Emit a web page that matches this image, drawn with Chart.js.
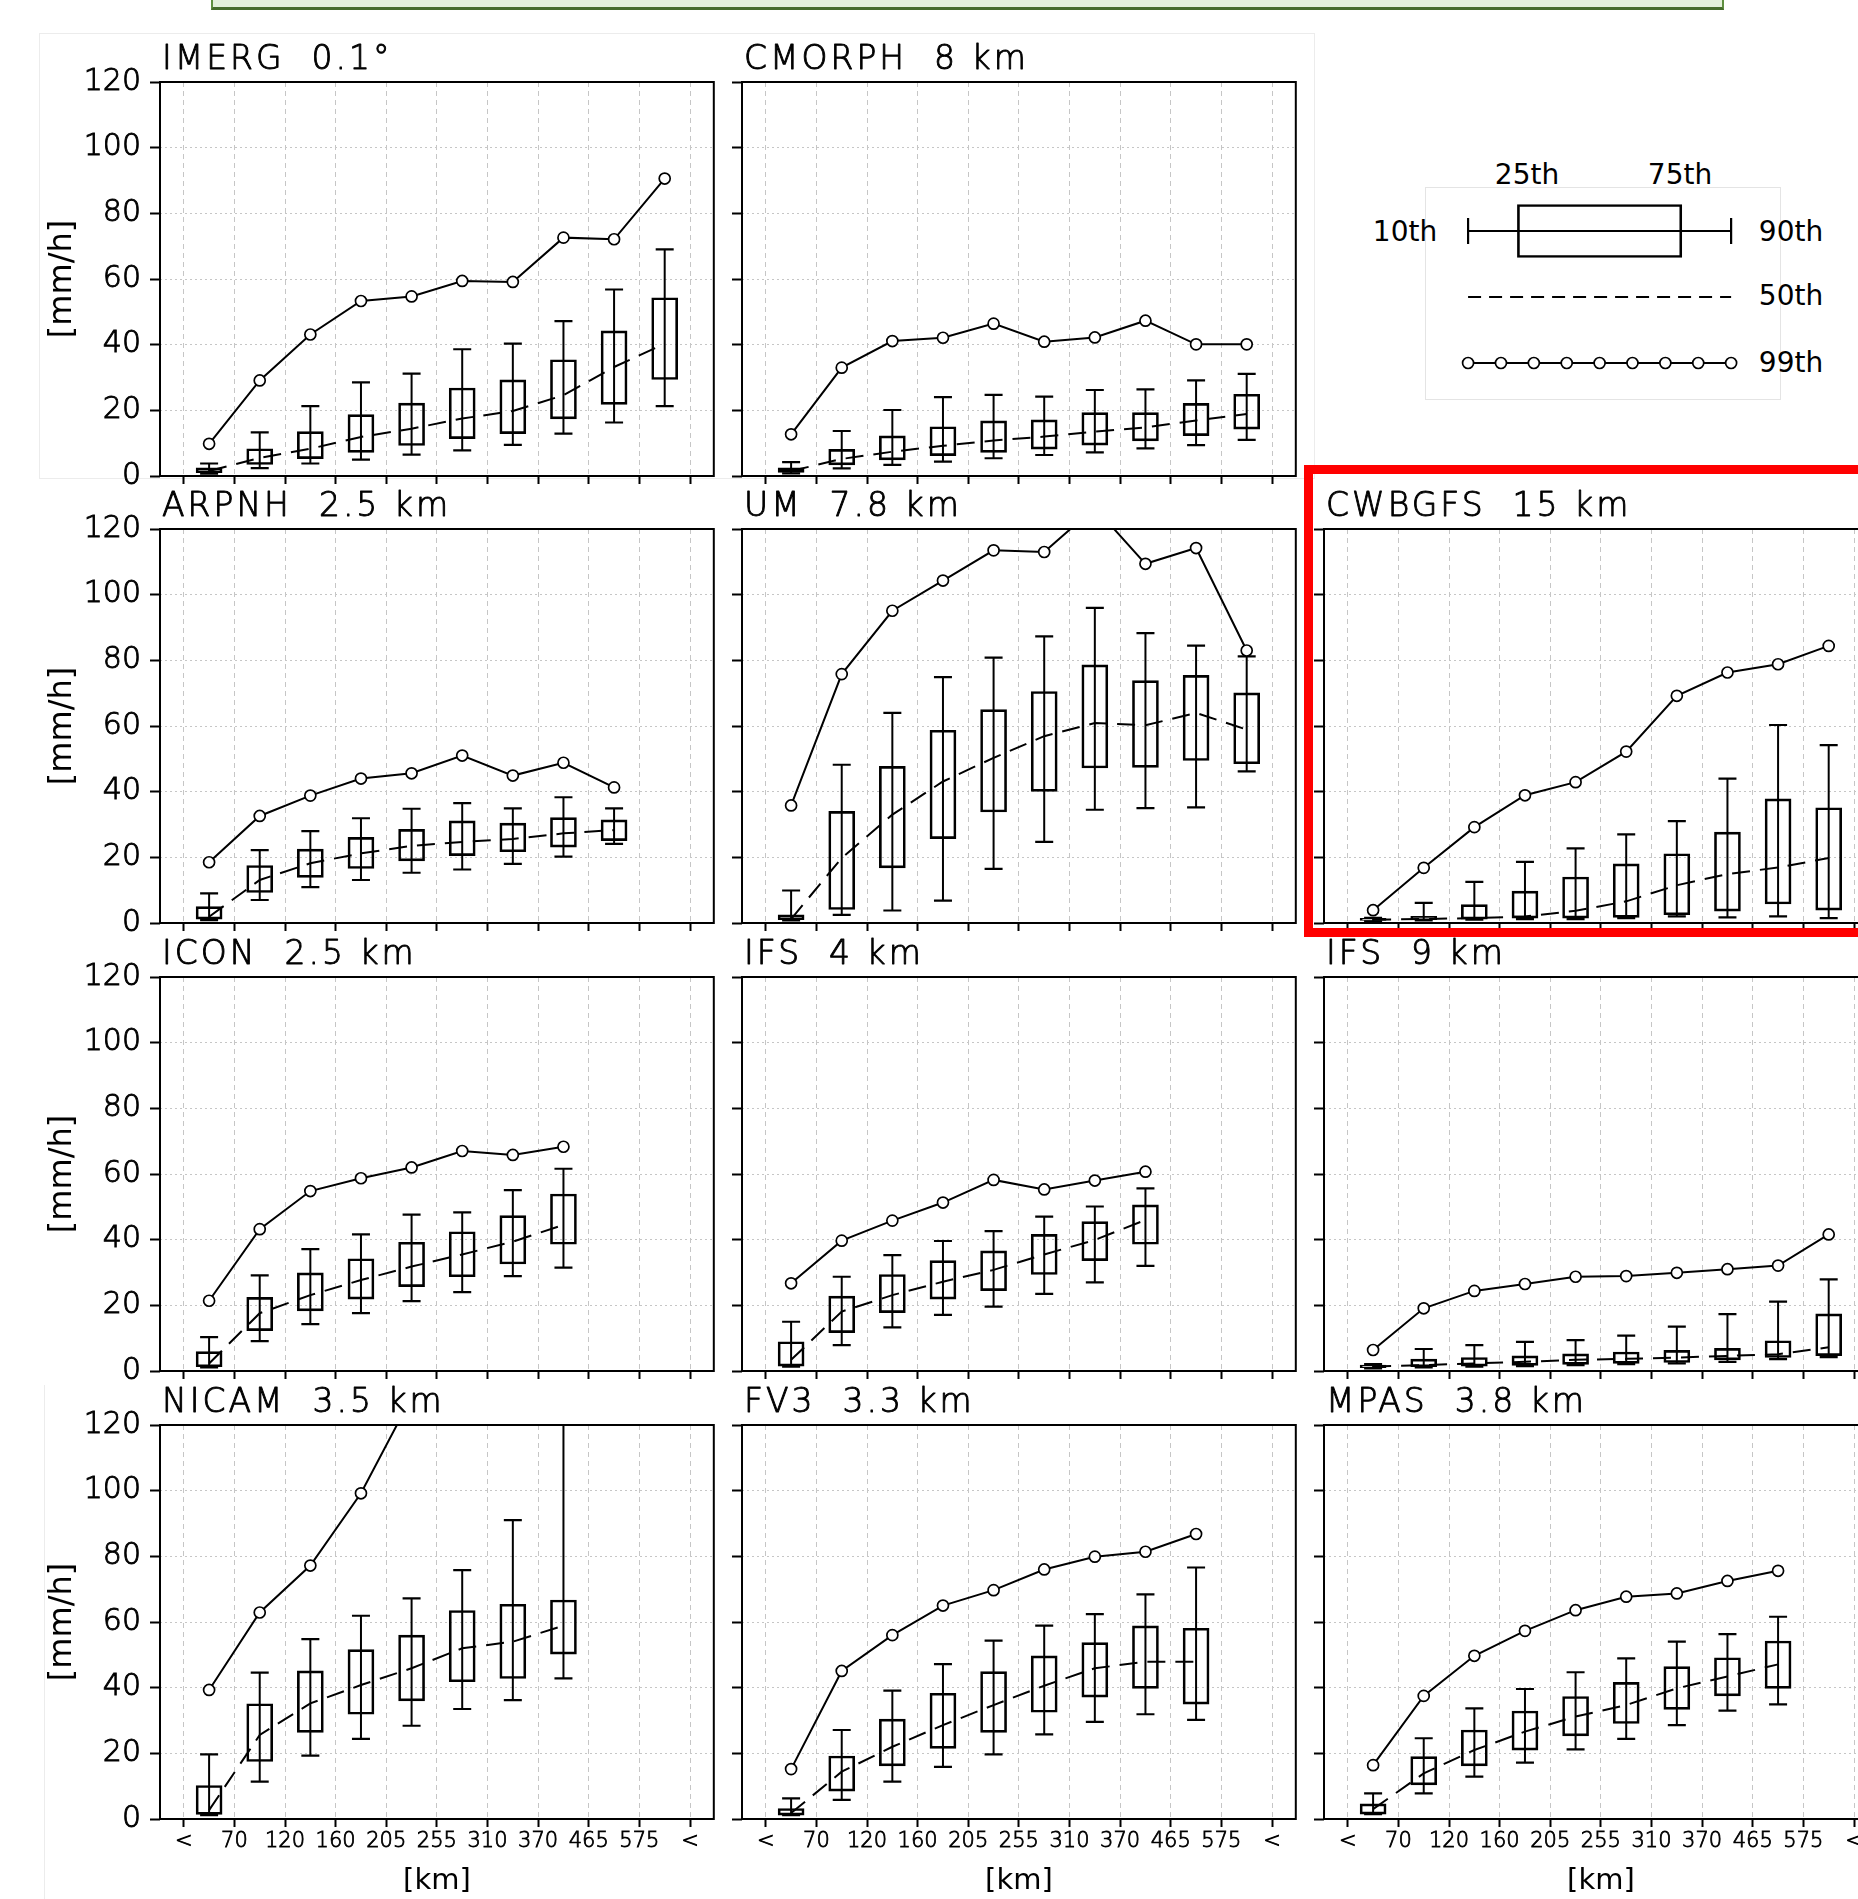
<!DOCTYPE html>
<html><head><meta charset="utf-8">
<script src="https://cdn.jsdelivr.net/npm/chart.js@4.4.1/dist/chart.umd.min.js"></script>
<style>
html,body{margin:0;padding:0;width:1858px;height:1899px;overflow:hidden;background:#fff;position:relative;}
canvas{position:absolute;}
.abs{position:absolute;box-sizing:border-box;}
.lt{position:absolute;font-family:'DejaVu Sans',sans-serif;font-size:28px;line-height:1;color:#000;transform:translate(-50%,-50%);white-space:nowrap;}
</style></head><body>
<div class="abs" style="left:211px;top:-4px;width:1513px;height:14px;background:#e2efda;border:2px solid #5f8f40;border-bottom:3px solid #456b2c;"></div>
<div class="abs" style="left:39px;top:33px;width:1276px;height:446px;border:1px solid #ececec;"></div>
<div class="abs" style="left:44px;top:1385px;width:690px;height:520px;border-left:1px solid #ececec;"></div>
<div class="abs" style="left:1425px;top:187px;width:356px;height:213px;border:1px solid #e4e4e4;"></div>

<div class="lt" style="left:1527px;top:175px;">25th</div>
<div class="lt" style="left:1680px;top:175px;">75th</div>
<div class="lt" style="left:1405px;top:232px;">10th</div>
<div class="lt" style="left:1791px;top:232px;">90th</div>
<div class="lt" style="left:1791px;top:296px;">50th</div>
<div class="lt" style="left:1791px;top:363px;">99th</div>

<script>
// ---------------- data ----------------
const xTickLabels = ['<', '70', '120', '160', '205', '255', '310', '370', '465', '575', '<'];

const imergP10 = [0.7, 2.4, 3.8, 5.0, 6.5, 7.8, 9.5, 12.9, 16.3, 21.3];
const imergP25 = [1.0, 3.5, 5.3, 7.2, 9.3, 11.4, 12.9, 17.4, 21.8, 29.4];
const imergP50 = [1.5, 5.5, 8.3, 11.9, 14.4, 17.5, 19.8, 24.6, 33.2, 40.3];
const imergP75 = [2.5, 8.3, 13.5, 18.7, 22.2, 26.8, 29.3, 35.4, 44.2, 54.3];
const imergP90 = [3.8, 13.3, 21.3, 28.5, 31.2, 38.6, 40.3, 47.2, 56.8, 69.0];
const imergP99 = [9.8, 29.1, 43.1, 53.3, 54.7, 59.4, 59.1, 72.6, 72.1, 90.6];

const cmorphP10 = [0.8, 2.3, 3.4, 4.4, 5.4, 6.4, 7.2, 8.4, 9.4, 11.0];
const cmorphP25 = [1.1, 3.4, 4.9, 6.2, 7.2, 8.2, 9.4, 10.7, 12.3, 14.3];
const cmorphP50 = [1.5, 5.2, 7.4, 9.2, 10.8, 12.0, 13.5, 14.8, 16.9, 18.9];
const cmorphP75 = [2.5, 8.1, 12.2, 15.0, 16.8, 17.1, 19.3, 19.3, 22.1, 24.9];
const cmorphP90 = [4.2, 13.7, 20.1, 24.0, 24.7, 24.2, 26.2, 26.4, 29.1, 31.1];
const cmorphP99 = [12.7, 33.0, 41.1, 42.1, 46.4, 40.9, 42.2, 47.3, 40.1, 40.1];

const arpnhP10 = [0.9, 7.0, 10.9, 13.1, 15.3, 16.3, 18.0, 20.2, 24.1];
const arpnhP25 = [1.2, 9.3, 13.9, 16.6, 18.9, 20.5, 21.7, 23.1, 25.1];
const arpnhP50 = [1.9, 13.1, 18.2, 21.2, 23.5, 24.7, 25.6, 27.3, 28.3];
const arpnhP75 = [5.0, 17.5, 22.5, 26.1, 28.5, 31.1, 30.4, 32.1, 31.4];
const arpnhP90 = [9.0, 22.2, 28.0, 31.9, 34.8, 36.5, 34.9, 38.3, 34.9];
const arpnhP99 = [18.5, 32.6, 38.8, 44.0, 45.6, 51.0, 44.9, 48.8, 41.3];

const umP10 = [0.8, 2.5, 3.8, 6.8, 16.5, 24.7, 34.5, 35.0, 35.2, 46.2];
const umP25 = [1.0, 4.1, 16.8, 25.7, 33.8, 40.1, 47.2, 47.4, 49.5, 48.5];
const umP50 = [1.2, 19.8, 33.0, 43.1, 50.3, 56.9, 60.9, 60.2, 64.0, 58.9];
const umP75 = [2.5, 34.0, 47.7, 58.7, 65.0, 70.5, 78.6, 73.8, 75.4, 70.1];
const umP90 = [9.9, 48.2, 64.0, 74.9, 80.8, 87.3, 96.0, 88.3, 84.5, 81.2];
const umP99 = [35.8, 75.8, 95.1, 104.3, 113.5, 113.0, 126.5, 109.4, 114.2, 83.0];

const cwbP10 = [0.5, 0.8, 1.0, 1.2, 1.2, 1.5, 2.0, 1.7, 2.0, 1.5];
const cwbP25 = [0.8, 1.0, 1.2, 1.5, 1.5, 1.7, 2.5, 3.6, 5.8, 3.9];
const cwbP50 = [1.0, 1.2, 1.5, 2.0, 3.7, 6.6, 11.5, 14.9, 16.9, 19.8];
const cwbP75 = [1.4, 2.0, 5.6, 9.7, 14.0, 18.0, 21.1, 27.7, 37.8, 35.1];
const cwbP90 = [1.6, 6.1, 12.5, 18.6, 22.7, 27.0, 31.0, 44.0, 60.3, 54.2];
const cwbP99 = [3.9, 16.8, 29.2, 38.9, 42.9, 52.2, 69.2, 76.3, 78.8, 84.4];

const iconP10 = [1.1, 9.1, 14.3, 17.6, 21.3, 24.0, 28.9, 31.5];
const iconP25 = [1.3, 12.3, 18.3, 21.9, 25.7, 28.7, 32.6, 38.6];
const iconP50 = [2.3, 17.6, 23.1, 27.7, 31.8, 35.5, 39.4, 44.5];
const iconP75 = [5.9, 22.4, 29.9, 34.2, 39.2, 42.4, 47.3, 53.9];
const iconP90 = [10.3, 29.1, 37.1, 41.6, 47.6, 48.3, 55.1, 61.6];
const iconP99 = [21.4, 43.2, 54.8, 58.7, 62.0, 67.0, 65.8, 68.3];

const ifs4P10 = [1.3, 7.9, 13.3, 17.1, 19.6, 23.5, 27.0, 32.0];
const ifs4P25 = [1.5, 11.7, 17.8, 21.9, 24.5, 29.4, 33.6, 38.6];
const ifs4P50 = [3.4, 18.1, 23.1, 27.2, 30.8, 35.5, 39.9, 46.0];
const ifs4P75 = [8.9, 22.8, 29.4, 33.6, 36.6, 41.6, 45.5, 50.6];
const ifs4P90 = [15.0, 28.7, 35.3, 39.6, 42.6, 47.0, 50.1, 55.6];
const ifs4P99 = [26.7, 39.7, 45.8, 51.3, 58.2, 55.3, 58.0, 60.7];

const ifs9P10 = [0.8, 1.1, 1.3, 1.5, 1.8, 2.1, 2.3, 2.8, 3.6, 4.2];
const ifs9P25 = [1.0, 1.3, 1.5, 1.7, 2.0, 2.3, 2.6, 3.4, 4.1, 4.7];
const ifs9P50 = [1.4, 1.8, 2.3, 2.8, 3.4, 3.7, 4.1, 4.6, 5.1, 7.2];
const ifs9P75 = [1.8, 3.6, 4.1, 4.6, 5.2, 5.8, 6.3, 6.9, 9.2, 17.4];
const ifs9P90 = [2.1, 6.7, 7.9, 8.9, 9.4, 10.8, 13.5, 17.3, 21.1, 27.9];
const ifs9P99 = [6.4, 19.1, 24.4, 26.5, 28.7, 28.9, 29.9, 31.0, 32.1, 41.6];

const nicamP10 = [1.2, 11.4, 19.3, 24.4, 28.4, 33.5, 36.2, 42.8];
const nicamP25 = [1.4, 17.5, 26.4, 31.9, 36.0, 41.8, 42.8, 50.2];
const nicamP50 = [2.7, 25.6, 35.2, 40.8, 45.9, 52.0, 54.0, 58.9];
const nicamP75 = [10.2, 35.1, 45.1, 51.6, 56.0, 63.5, 65.4, 66.7];
const nicamP90 = [19.7, 44.6, 54.8, 61.9, 67.2, 75.8, 91.0, 125.0];
const nicamP99 = [39.3, 62.9, 77.2, 99.2, 128.5, 136.0, 142.0, 150.0];

const fv3P10 = [1.2, 5.8, 11.4, 15.9, 19.7, 25.8, 29.6, 31.9, 30.2];
const fv3P25 = [1.2, 8.5, 16.2, 21.5, 26.4, 32.5, 37.1, 39.8, 35.0];
const fv3P50 = [1.8, 14.4, 22.0, 28.6, 34.7, 40.6, 45.9, 47.9, 47.9];
const fv3P75 = [3.2, 19.2, 30.4, 38.3, 44.9, 49.7, 53.7, 58.8, 58.1];
const fv3P90 = [6.3, 27.1, 39.1, 47.2, 54.3, 58.9, 62.4, 68.4, 76.6];
const fv3P99 = [15.2, 45.1, 56.0, 65.0, 69.7, 76.0, 79.9, 81.4, 86.8];

const mpasP10 = [1.5, 7.8, 12.9, 17.2, 21.2, 24.4, 28.6, 33.0, 34.9];
const mpasP25 = [1.5, 10.4, 16.2, 21.0, 25.3, 29.1, 33.4, 37.5, 39.8];
const mpasP50 = [3.0, 13.9, 21.0, 26.6, 31.2, 34.7, 39.8, 43.4, 47.1];
const mpasP75 = [4.6, 19.0, 27.1, 32.9, 37.3, 41.6, 46.4, 49.1, 54.2];
const mpasP90 = [7.8, 24.6, 33.7, 39.6, 44.7, 48.9, 54.0, 56.3, 61.6];
const mpasP99 = [16.4, 37.5, 49.7, 57.3, 63.6, 67.7, 68.7, 72.5, 75.6];

// legend key (percentile positions along the key)
const legendRows = ['box', 'median', 'p99'];
const legendBox = [25, 75];
const legendWhisker = [10, 90];
const legendDots = [10, 20, 30, 40, 50, 60, 70, 80, 90];

// --------------- panels table ---------------
const panels = [
  {title: 'IMERG  0.1°',   row: 0, col: 0, p10: imergP10, p25: imergP25, p50: imergP50, p75: imergP75, p90: imergP90, p99: imergP99},
  {title: 'CMORPH  8 km',  row: 0, col: 1, p10: cmorphP10, p25: cmorphP25, p50: cmorphP50, p75: cmorphP75, p90: cmorphP90, p99: cmorphP99},
  {title: 'ARPNH  2.5 km', row: 1, col: 0, p10: arpnhP10, p25: arpnhP25, p50: arpnhP50, p75: arpnhP75, p90: arpnhP90, p99: arpnhP99},
  {title: 'UM  7.8 km',    row: 1, col: 1, p10: umP10, p25: umP25, p50: umP50, p75: umP75, p90: umP90, p99: umP99},
  {title: 'CWBGFS  15 km', row: 1, col: 2, p10: cwbP10, p25: cwbP25, p50: cwbP50, p75: cwbP75, p90: cwbP90, p99: cwbP99},
  {title: 'ICON  2.5 km',  row: 2, col: 0, p10: iconP10, p25: iconP25, p50: iconP50, p75: iconP75, p90: iconP90, p99: iconP99},
  {title: 'IFS  4 km',     row: 2, col: 1, p10: ifs4P10, p25: ifs4P25, p50: ifs4P50, p75: ifs4P75, p90: ifs4P90, p99: ifs4P99},
  {title: 'IFS  9 km',     row: 2, col: 2, p10: ifs9P10, p25: ifs9P25, p50: ifs9P50, p75: ifs9P75, p90: ifs9P90, p99: ifs9P99},
  {title: 'NICAM  3.5 km', row: 3, col: 0, p10: nicamP10, p25: nicamP25, p50: nicamP50, p75: nicamP75, p90: nicamP90, p99: nicamP99},
  {title: 'FV3  3.3 km',   row: 3, col: 1, p10: fv3P10, p25: fv3P25, p50: fv3P50, p75: fv3P75, p90: fv3P90, p99: fv3P99},
  {title: 'MPAS  3.8 km',  row: 3, col: 2, p10: mpasP10, p25: mpasP25, p50: mpasP50, p75: mpasP75, p90: mpasP90, p99: mpasP99}
];

// --------------- layout / style ---------------
const FONT = "'DejaVu Sans', sans-serif";
const PLOT_LEFT = [160, 742, 1324];
const PLOT_TOP = [82, 529, 977, 1425];
const PLOT_W = 557, PLOT_H = 394;
const AXIS_W = 160, PAD_TOP = 50, PAD_R = 8;
const X_MIN = -0.47, X_MAX = 10.47;
const INK = '#000';
const GRID = '#c6c6c6';
const LW = 2;

const panelDecor = {
  id: 'panelDecor',
  afterDatasetsDraw(chart, args, opts) {
    const {ctx, chartArea: a} = chart;
    ctx.save();
    ctx.strokeStyle = INK; ctx.lineWidth = 2;
    ctx.strokeRect(a.left, a.top, a.right - a.left, a.bottom - a.top);
    ctx.fillStyle = INK;
    ctx.font = `300 33px ${FONT}`;
    try { ctx.letterSpacing = '3px'; } catch (e) {}
    ctx.textAlign = 'left'; ctx.textBaseline = 'alphabetic';
    ctx.lineWidth = 0.9; ctx.lineJoin = 'round';
    ctx.fillText(opts.text, a.left + 2, a.top - 13);
    ctx.strokeText(opts.text, a.left + 2, a.top - 13);
    ctx.restore();
  }
};

function makeCanvas(left, top, w, h) {
  const cv = document.createElement('canvas');
  cv.width = w; cv.height = h;
  cv.style.left = left + 'px'; cv.style.top = top + 'px';
  cv.style.width = w + 'px'; cv.style.height = h + 'px';
  document.body.appendChild(cv);
  return cv;
}

function makePanel(p) {
  const bottomRow = p.row === 3;
  const firstCol = p.col === 0;
  const axH = bottomRow ? 80 : 14;
  const W = AXIS_W + PLOT_W + PAD_R, H = PAD_TOP + PLOT_H + axH;
  const cv = makeCanvas(PLOT_LEFT[p.col] - AXIS_W, PLOT_TOP[p.row] - PAD_TOP, W, H);
  const xOf = i => i + 0.5;

  const whiskers = [];
  p.p10.forEach((v, i) => {
    whiskers.push({x: xOf(i), y: v}, {x: xOf(i), y: p.p90[i]}, {x: xOf(i), y: null});
  });

  new Chart(cv, {
    type: 'line',
    data: {
      datasets: [
        {
          label: '99th', data: p.p99.map((v, i) => ({x: xOf(i), y: v})),
          borderColor: INK, borderWidth: LW, tension: 0,
          pointStyle: 'circle', pointRadius: 5.5, pointBorderWidth: 1.7,
          pointBorderColor: INK, pointBackgroundColor: '#fff'
        },
        {
          label: '50th', data: p.p50.map((v, i) => ({x: xOf(i), y: v})),
          borderColor: INK, borderWidth: LW, borderDash: [18, 10], tension: 0, pointRadius: 0
        },
        {
          label: '10th-90th', data: whiskers, spanGaps: false,
          borderColor: INK, borderWidth: LW, tension: 0,
          pointStyle: 'line', pointRadius: 9, pointBorderWidth: 2.2, pointBorderColor: INK
        },
        {
          type: 'bar', label: '25th-75th',
          data: p.p25.map((v, i) => ({x: xOf(i), y: [v, p.p75[i]]})),
          backgroundColor: 'rgba(0,0,0,0)', borderColor: INK, borderWidth: LW,
          borderSkipped: false, barThickness: 26
        }
      ]
    },
    options: {
      responsive: false, animation: false, devicePixelRatio: 1,
      layout: {padding: {top: PAD_TOP, right: PAD_R, left: 0, bottom: 0}},
      plugins: {legend: {display: false}, tooltip: {enabled: false}, title: {display: false},
                panelDecor: {text: p.title}},
      scales: {
        x: {
          type: 'linear', min: X_MIN, max: X_MAX, offset: false,
          afterBuildTicks: ax => { ax.ticks = xTickLabels.map((_, i) => ({value: i})); },
          afterFit: ax => { ax.height = axH; ax.paddingLeft = 0; ax.paddingRight = 0; },
          ticks: {display: bottomRow, autoSkip: false, maxRotation: 0, minRotation: 0, padding: 2, color: INK,
                  font: {family: FONT, size: 21, weight: 300}, textStrokeColor: INK, textStrokeWidth: 0.8,
                  callback: v => xTickLabels[v]},
          grid: {color: GRID, lineWidth: 1, offset: false, drawTicks: true, tickLength: 8,
                 tickColor: INK, tickWidth: 2, tickBorderDash: []},
          border: {display: false, dash: [5, 4]},
          title: {display: bottomRow, text: '[km]', color: INK, font: {family: FONT, size: 29},
                  padding: {top: 0, bottom: 0}}
        },
        y: {
          type: 'linear', min: 0, max: 120,
          afterFit: ax => { ax.width = AXIS_W; ax.paddingTop = 0; ax.paddingBottom = 0; },
          ticks: {display: firstCol, stepSize: 20, padding: 9, color: INK,
                  font: {family: FONT, size: 30, weight: 300}, textStrokeColor: INK, textStrokeWidth: 0.9},
          grid: {color: GRID, lineWidth: 1, drawTicks: true, tickLength: 10,
                 tickColor: INK, tickWidth: 2, tickBorderDash: []},
          border: {display: false, dash: [2, 3]},
          title: {display: firstCol, text: '[mm/h]', color: INK, font: {family: FONT, size: 32},
                  padding: {top: 43, bottom: 0}}
        }
      }
    },
    plugins: [panelDecor]
  });
}

panels.forEach(makePanel);

// --------------- legend key ---------------
(function () {
  const cv = makeCanvas(1420, 180, 360, 240);
  new Chart(cv, {
    type: 'line',
    data: {
      datasets: [
        {
          type: 'bar', indexAxis: 'y', data: [{x: legendBox, y: legendRows[0]}],
          backgroundColor: 'rgba(0,0,0,0)', borderColor: INK, borderWidth: LW,
          borderSkipped: false, barThickness: 53, clip: false
        },
        {
          data: legendWhisker.map(v => ({x: v, y: legendRows[0]})),
          borderColor: INK, borderWidth: LW, pointStyle: 'line', rotation: 90,
          pointRadius: 13, pointBorderWidth: 2.2, pointBorderColor: INK, clip: false
        },
        {
          data: legendWhisker.map(v => ({x: v, y: legendRows[1]})),
          borderColor: INK, borderWidth: LW, borderDash: [13, 8], pointRadius: 0, clip: false
        },
        {
          data: legendDots.map(v => ({x: v, y: legendRows[2]})),
          borderColor: INK, borderWidth: LW, pointStyle: 'circle', pointRadius: 5.5,
          pointBorderWidth: 1.7, pointBorderColor: INK, pointBackgroundColor: '#fff', clip: false
        }
      ]
    },
    options: {
      responsive: false, animation: false, devicePixelRatio: 1,
      layout: {padding: {left: 13.4, right: 16, top: 51, bottom: 57}},
      plugins: {legend: {display: false}, tooltip: {enabled: false}},
      scales: {
        x: {type: 'linear', min: 0, max: 100, display: false},
        y: {type: 'category', labels: legendRows, offset: false, display: false}
      }
    }
  });
})();
</script>
<div class="abs" style="left:1304px;top:465px;width:700px;height:472px;border:9px solid #ff0000;"></div>
</body></html>
